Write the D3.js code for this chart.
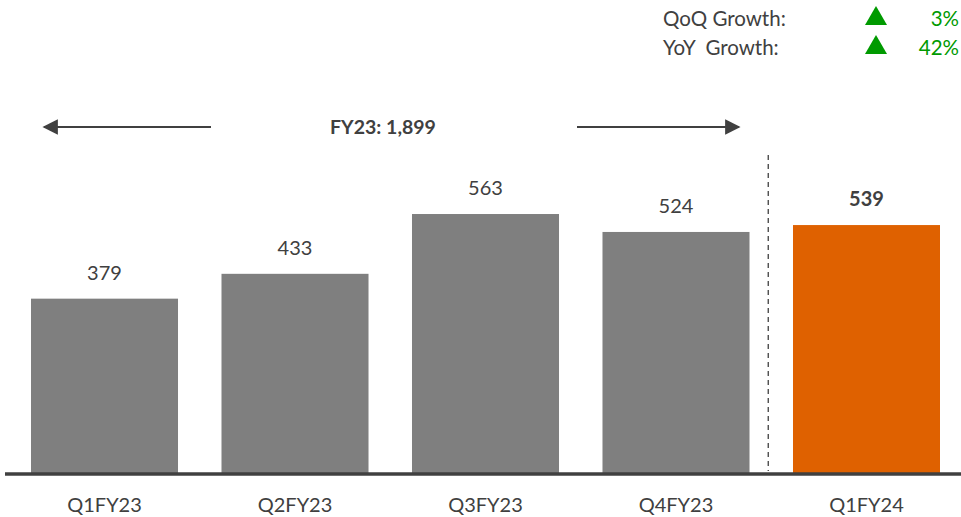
<!DOCTYPE html>
<html><head><meta charset="utf-8">
<script src="https://cdn.jsdelivr.net/npm/d3@7"></script>
<style>body{margin:0;background:#fff;}text{font-family:Lato,"Open Sans",sans-serif;}</style>
</head><body><svg id="c" width="961" height="517"></svg>
<script>
const categories = ["Q1FY23","Q2FY23","Q3FY23","Q4FY23","Q1FY24"];
const values = [379,433,563,524,539];
const highlight = [false,false,false,false,true];
const fyLabel = "FY23: 1,899";
const growthLabels = ["QoQ Growth:","YoY  Growth:"];
const growthValues = ["3%","42%"];

const svg = d3.select("#c");
const x = d3.scaleBand().domain(categories).range([5, 966]).paddingInner(0.2283).paddingOuter(0.1365);
const y = d3.scaleLinear().domain([0,1000]).range([473,13]);
const grey = "#7f7f7f", orange = "#df6100", dark = "#404040", green = "#009a00";

svg.selectAll("rect.bar").data(values).enter().append("rect")
  .attr("x",(d,i)=>x(categories[i])).attr("width",x.bandwidth())
  .attr("y",d=>y(d)).attr("height",d=>y(0)-y(d))
  .attr("fill",(d,i)=>highlight[i]?orange:grey);

svg.selectAll("text.val").data(values).enter().append("text")
  .attr("x",(d,i)=>x(categories[i])+x.bandwidth()/2).attr("y",d=>y(d)-19)
  .attr("text-anchor","middle").attr("font-size",20)
  .attr("font-weight",(d,i)=>highlight[i]?"bold":"normal")
  .attr("fill",dark).text(d=>d);

// axis
const axis = d3.axisBottom(x).tickSize(0).tickPadding(25);
const ag = svg.append("g").attr("transform",`translate(0,${y(0)})`).call(axis);
ag.select(".domain").remove();
ag.selectAll("text").attr("font-size",20).attr("fill",dark).style("font-family","Lato,'Open Sans',sans-serif");
svg.append("line").attr("x1",5).attr("x2",961).attr("y1",y(0)+1).attr("y2",y(0)+1)
  .attr("stroke",dark).attr("stroke-width",3.5);

// dashed separator
const sepX = (x(categories[3])+x.bandwidth()+x(categories[4]))/2 - 3;
svg.append("line").attr("x1",sepX).attr("x2",sepX).attr("y1",155).attr("y2",471)
  .attr("stroke",dark).attr("stroke-width",1.3).attr("stroke-dasharray","5,4");

// arrows
const defs = svg.append("defs");
defs.append("marker").attr("id","ah").attr("viewBox","0 0 10 10").attr("refX",9).attr("refY",5)
  .attr("markerWidth",7).attr("markerHeight",7).attr("markerUnits","strokeWidth").attr("orient","auto-start-reverse")
  .append("path").attr("d","M0,0L10,5L0,10z").attr("fill",dark);
const ay = 127;
svg.append("line").attr("x1",211).attr("x2",44).attr("y1",ay).attr("y2",ay)
  .attr("stroke",dark).attr("stroke-width",2.2).attr("marker-end","url(#ah)");
svg.append("line").attr("x1",577).attr("x2",739).attr("y1",ay).attr("y2",ay)
  .attr("stroke",dark).attr("stroke-width",2.2).attr("marker-end","url(#ah)");
svg.append("text").attr("x",383).attr("y",ay+7).attr("text-anchor","middle")
  .attr("font-size",19.5).attr("font-weight","bold").attr("fill",dark).text(fyLabel);

// growth box
growthLabels.forEach((t,i)=>{
  const yy = 26 + i*29;
  svg.append("text").attr("x",663).attr("y",yy).attr("font-size",20.5).attr("fill",dark)
    .attr("xml:space","preserve").style("white-space","pre").text(t);
  svg.append("path").attr("d",`M${876},${yy-20}L${887},${yy-1}L${865},${yy-1}Z`).attr("fill",green);
  svg.append("text").attr("x",959).attr("y",yy).attr("text-anchor","end").attr("font-size",20.5)
    .attr("fill",green).text(growthValues[i]);
});
</script></body></html>
